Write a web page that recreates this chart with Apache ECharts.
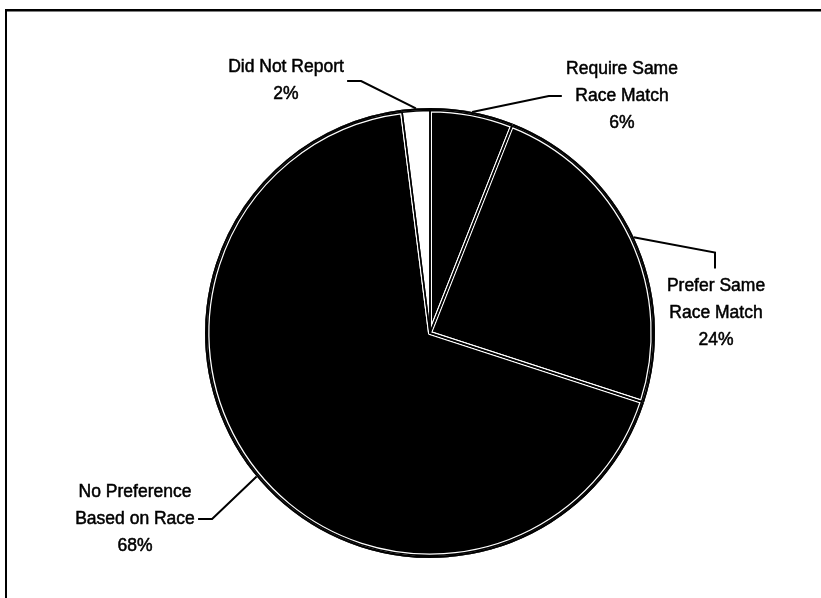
<!DOCTYPE html>
<html>
<head>
<meta charset="utf-8">
<script src="https://cdn.jsdelivr.net/npm/echarts@6/dist/echarts.min.js"></script>
<style>
  html, body { margin: 0; padding: 0; background: #fff; }
  #chart { width: 821px; height: 598px; }
</style>
</head>
<body>
<div id="chart"></div>
<script>
// Slices, clockwise from twelve o'clock
const categories = ['Require Same\nRace Match', 'Prefer Same\nRace Match', 'No Preference\nBased on Race', 'Did Not Report'];
const percents = [6, 24, 68, 2];
const sliceColors = ['#000', '#000', '#000', '#fff'];

const CX = 430, CY = 333, R = 225;

// Where each label block sits (its centre) and which side its leader enters from
const labelPlacement = [
  { x: 622, y: 96, side: 'left' },
  { x: 716, y: 313, side: 'top' },
  { x: 135, y: 519, side: 'right' },
  { x: 286, y: 81, side: 'right' }
];

const textStyle = {
  fontFamily: '"Liberation Sans", Arial, Helvetica, sans-serif',
  fontSize: 17.5,
  lineHeight: 27,
  color: '#000',
  textBorderColor: '#000',
  textBorderWidth: 0.5
};

const data = categories.map((name, i) => ({
  name,
  value: percents[i],
  itemStyle: { color: sliceColors[i] }
}));
const blackData = categories.map((name, i) => ({ name, value: percents[i] }));

const chart = echarts.init(document.getElementById('chart'), null, { renderer: 'canvas' });

chart.setOption({
  animation: false,
  backgroundColor: '#fff',
  graphic: [
    // frame around the figure (open to the right and bottom)
    { type: 'rect', shape: { x: 5, y: 9, width: 816, height: 2.5 }, style: { fill: '#000' } },
    { type: 'rect', shape: { x: 5, y: 9, width: 2, height: 589 }, style: { fill: '#000' } }
  ],
  series: [
    {
      // base disc: black outline and labels
      type: 'pie',
      center: [CX, CY],
      radius: R,
      startAngle: 90,
      clockwise: true,
      avoidLabelOverlap: false,
      data: blackData,
      itemStyle: { color: '#000', borderWidth: 0 },
      label: Object.assign({
        show: true,
        position: 'outside',
        formatter: '{b}\n{c}%',
        align: 'center'
      }, textStyle),
      labelLine: { show: true, smooth: false, lineStyle: { color: '#000', width: 2 } },
      labelLayout: function (params) {
        const p = labelPlacement[params.dataIndex];
        const w = params.labelRect.width, h = params.labelRect.height;
        const anchor = params.labelLinePoints ? params.labelLinePoints[0] : [CX, CY];
        let pts;
        if (p.side === 'left') {
          const left = p.x - w / 2;
          pts = [anchor, [left - 17, p.y], [left - 4, p.y]];
        } else if (p.side === 'right') {
          const right = p.x + w / 2;
          pts = [anchor, [right + 17, p.y], [right + 3, p.y]];
        } else {
          const top = p.y - h / 2;
          pts = [anchor, [p.x - 1, top - 20], [p.x - 1, top - 4]];
        }
        return {
          x: p.x,
          y: p.y,
          align: 'center',
          verticalAlign: 'middle',
          labelLinePoints: pts
        };
      },
      z: 1
    },
    {
      // slice fills with a white band along every edge
      type: 'pie',
      center: [CX, CY],
      radius: R - 2.5,
      startAngle: 90,
      clockwise: true,
      silent: true,
      data: data,
      itemStyle: { borderColor: '#fff', borderWidth: 4 },
      label: { show: false },
      labelLine: { show: false },
      z: 2
    },
    {
      // black rule down the middle of each white band
      type: 'pie',
      center: [CX, CY],
      radius: R - 2.5,
      startAngle: 90,
      clockwise: true,
      silent: true,
      data: blackData,
      itemStyle: { color: 'rgba(0,0,0,0)', borderColor: '#000', borderWidth: 1.5 },
      label: { show: false },
      labelLine: { show: false },
      z: 3
    },
    {
      // solid black rim
      type: 'pie',
      center: [CX, CY],
      radius: [R - 2, R],
      startAngle: 90,
      clockwise: true,
      silent: true,
      data: blackData,
      itemStyle: { color: '#000', borderWidth: 0 },
      label: { show: false },
      labelLine: { show: false },
      z: 4
    }
  ]
});
</script>
</body>
</html>
